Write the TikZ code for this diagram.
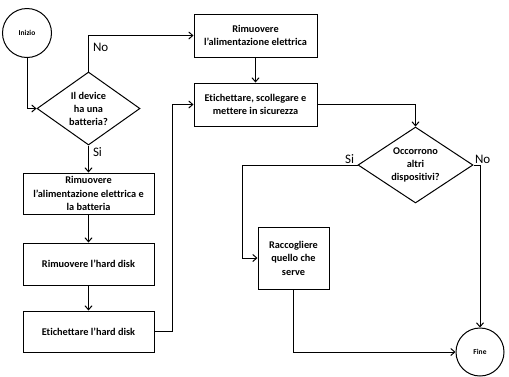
\documentclass[tikz,border=0pt]{standalone}
\usepackage{fontspec}
\setmainfont{Carlito}[Ligatures=NoCommon]
\usetikzlibrary{shapes.geometric,arrows.meta}
\begin{document}
\begin{tikzpicture}[x=1pt,y=-1pt,
	box/.style={draw, line width=1pt, align=center, inner sep=1pt, font=\fontsize{10.3}{13.5}\selectfont\bfseries},
	decision/.style={draw, diamond, line width=1pt, align=center, inner sep=0pt, font=\fontsize{10.3}{13}\selectfont\bfseries},
	term/.style={draw, circle, line width=1pt, inner sep=0pt, minimum size=49pt, font=\fontsize{7.5}{9}\selectfont\bfseries},
	flow/.style={line width=1pt, -{Straight Barb[length=4pt,width=7pt]}},
	lbl/.style={font=\fontsize{13}{15}\selectfont, inner sep=1pt}]
	\useasboundingbox (0,0) rectangle (509,376);
	\node[term] (inizio) at (27,33) {Inizio};
	\node[decision, aspect=1.4, minimum width=103pt, minimum height=73pt] (batt) at (88.5,108.5) {Il device\\ha una\\batteria?};
	\node[box, minimum width=123pt, minimum height=43pt] (rimal) at (255.5,35.5) {Rimuovere\\l’alimentazione elettrica};
	\node[box, minimum width=123pt, minimum height=43pt] (etich) at (255.5,104.5) {Etichettare, scollegare e\\mettere in sicurezza};
	\node[decision, aspect=1.5, minimum width=115pt, minimum height=76pt] (altri) at (415.5,165) {Occorrono\\altri\\dispositivi?};
	\node[box, minimum width=131pt, minimum height=41pt] (rimbat) at (88.5,193.5) {Rimuovere\\l’alimentazione elettrica e\\la batteria};
	\node[box, minimum width=131pt, minimum height=42pt] (rimhd) at (88.5,264) {Rimuovere l’hard disk};
	\node[box, minimum width=131pt, minimum height=41pt] (etihd) at (88.5,331.5) {Etichettare l’hard disk};
	\node[box, minimum width=71pt, minimum height=62pt] (racc) at (293.5,258) {Raccogliere\\quello che\\serve};
	\node[term, minimum size=48pt] (fine) at (480,352) {Fine};

	\draw[flow] (inizio.south) |- (batt.west);
	\draw[flow] (batt.north) |- node[lbl, pos=0.33, right, xshift=3pt] {No} (rimal.west);
	\draw[flow] (batt.south) -- node[lbl, pos=0, below right, xshift=3pt, yshift=-1pt] {Si} (rimbat.north);
	\draw[flow] (rimbat) -- (rimhd);
	\draw[flow] (rimhd) -- (etihd);
	\draw[flow] (etihd.east) -| ([xshift=-21pt]etich.west) -- (etich.west);
	\draw[flow] (rimal) -- (etich);
	\draw[flow] (etich.east) -| (altri.north);
	\draw[flow] (altri.west) node[lbl, above left, xshift=-2pt] {Si} -| ([xshift=-15pt]racc.west) -- (racc.west);
	\draw[flow] (altri.east) node[lbl, above right] {No} -| (fine.north);
	\draw[flow] (racc.south) |- (fine.west);
\end{tikzpicture}
\end{document}
